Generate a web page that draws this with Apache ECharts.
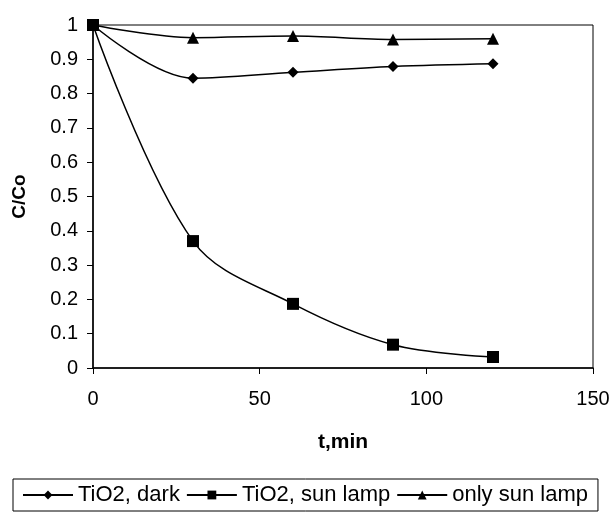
<!DOCTYPE html>
<html><head><meta charset="utf-8">
<script src="https://cdn.jsdelivr.net/npm/echarts@6/dist/echarts.min.js"></script>
<style>html,body{margin:0;padding:0;background:#fff}#c{width:615px;height:513px}</style>
</head><body><div id="c"></div>
<script>
const times = [0, 30, 60, 90, 120];
const tio2Dark = [1, 0.845, 0.862, 0.879, 0.887];
const tio2SunLamp = [1, 0.37, 0.187, 0.068, 0.032];
const onlySunLamp = [1, 0.963, 0.968, 0.958, 0.96];
const seriesNames = ['TiO2, dark', 'TiO2, sun lamp', 'only sun lamp'];
const yTicks = [0, 0.1, 0.2, 0.3, 0.4, 0.5, 0.6, 0.7, 0.8, 0.9, 1];

const pair = arr => times.map((t, i) => [t, arr[i]]);
const font = 'Liberation Sans, Arial, sans-serif';
const mk = (name, data, symbol, size) => ({
  name, type: 'line', data: pair(data), smooth: 0.35,
  symbol, symbolSize: size,
  lineStyle: { color: '#000', width: 1.5 },
  itemStyle: { color: '#000' }
});
const chart = echarts.init(document.getElementById('c'));
chart.setOption({
  animation: false,
  backgroundColor: '#fff',
  grid: { left: 93, top: 25, right: 22, bottom: 145, show: true, borderColor: '#000', borderWidth: 1, backgroundColor: 'transparent' },
  xAxis: {
    type: 'value', min: 0, max: 150, interval: 50,
    name: 't,min', nameLocation: 'middle', nameGap: 64,
    nameTextStyle: { fontFamily: font, fontSize: 21, fontWeight: 'bold', color: '#000' },
    axisLine: { show: true, lineStyle: { color: '#000', width: 1.5 } },
    axisTick: { show: true, length: 6, lineStyle: { color: '#000' } },
    axisLabel: { fontFamily: font, fontSize: 20, color: '#000', margin: 21 },
    splitLine: { show: false }
  },
  yAxis: {
    type: 'value', min: 0, max: 1, interval: 0.1,
    name: 'C/Co', nameLocation: 'middle', nameGap: 64,
    nameTextStyle: { fontFamily: font, fontSize: 19, fontWeight: 'bold', color: '#000' },
    axisLine: { show: true, lineStyle: { color: '#000', width: 1.5 } },
    axisTick: { show: true, length: 6, lineStyle: { color: '#000' } },
    axisLabel: { fontFamily: font, fontSize: 20, color: '#000', margin: 15,
      formatter: v => { const t = yTicks.find(x => Math.abs(x - v) < 1e-9); return t === undefined ? '' : String(t); } },
    splitLine: { show: false }
  },
  legend: {
    data: seriesNames, top: 479, left: 13,
    borderColor: '#000', borderWidth: 1, padding: [5, 10, 5, 9],
    itemGap: 6, itemWidth: 50, itemHeight: 11,
    textStyle: { fontFamily: font, fontSize: 22, color: '#000' }
  },
  series: [
    mk(seriesNames[0], tio2Dark, 'diamond', 11),
    mk(seriesNames[1], tio2SunLamp, 'rect', 12),
    mk(seriesNames[2], onlySunLamp, 'triangle', 12)
  ]
});
</script></body></html>
